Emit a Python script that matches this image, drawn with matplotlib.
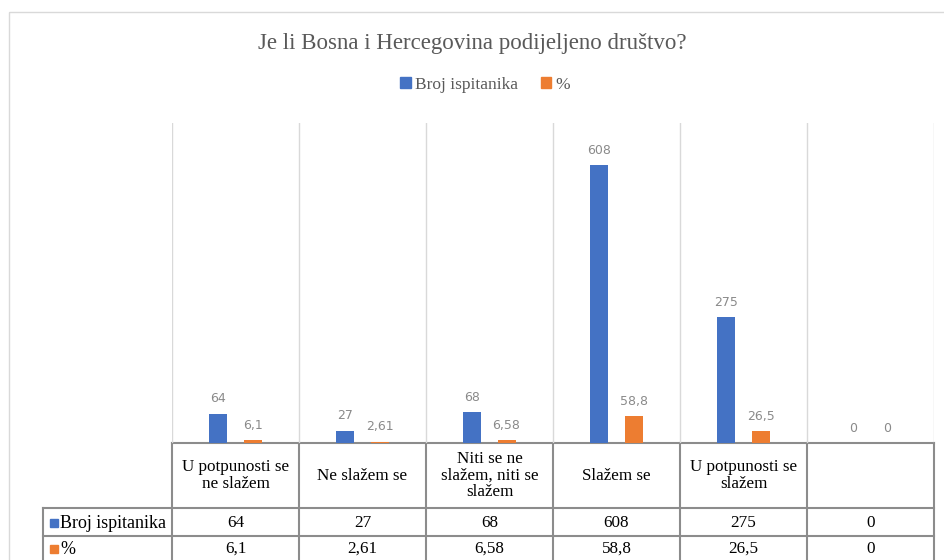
import textwrap
import numpy as np
import matplotlib
matplotlib.use('Agg')
import matplotlib.pyplot as plt
from matplotlib.patches import Rectangle, Patch

# ============== 数据 ==============
categories = ['U potpunosti se ne slažem', 'Ne slažem se',
              'Niti se ne slažem, niti se slažem', 'Slažem se',
              'U potpunosti se slažem', '']
broj = [64, 27, 68, 608, 275, 0]
posto = [6.1, 2.61, 6.58, 58.8, 26.5, 0]
series_names = ['Broj ispitanika', '%']
title = 'Je li Bosna i Hercegovina podijeljeno društvo?'

BLUE = '#4472C4'
ORANGE = '#ED7D31'
GRID = '#D9D9D9'
TLINE = '#8C8C8C'
TXT = '#595959'
SERIF = 'Liberation Serif'
TFS = 12.3  # table font size


def fmt(v):
    return str(v).replace('.', ',')


W, H = 944, 560
fig = plt.figure(figsize=(W / 100, H / 100), dpi=100)

# overlay in pixel coords for frame / table
ov = fig.add_axes([0, 0, 1, 1])
ov.set_xlim(0, W)
ov.set_ylim(H, 0)
ov.axis('off')
ov.add_patch(Rectangle((9, 12), 1000, 600, fill=False, edgecolor=GRID, lw=1))

# plot area
x0, x1, ytop, ybot = 172, 934, 123, 443
ax = fig.add_axes([x0 / W, 1 - ybot / H, (x1 - x0) / W, (ybot - ytop) / H])
n = len(categories)
x = np.arange(n)
bw, off = 0.142, 0.134
ax.bar(x - off, broj, bw, color=BLUE, zorder=3)
ax.bar(x + off, posto, bw, color=ORANGE, zorder=3)
for xi, v in zip(x, broj):
    ax.annotate(fmt(v), (xi - off, v), xytext=(0, 6), textcoords='offset points',
                ha='center', va='bottom', fontsize=9, color='#8A8A8A', family='DejaVu Sans')
for xi, v in zip(x, posto):
    ax.annotate(fmt(v), (xi + off, v), xytext=(0, 6), textcoords='offset points',
                ha='center', va='bottom', fontsize=9, color='#8A8A8A', family='DejaVu Sans')
ax.set_xlim(-0.5, n - 0.5)
ax.set_ylim(0, 700)
for b in np.arange(n + 1) - 0.5:
    ax.axvline(b, color=GRID, lw=1, zorder=1)
for s in ax.spines.values():
    s.set_visible(False)
ax.set_xticks([])
ax.set_yticks([])
ax.patch.set_alpha(0)

# title + legend
fig.text(0.5, 1 - 44 / H, title, ha='center', va='center', fontsize=16.5,
         color=TXT, family=SERIF)
handles = [Patch(color=BLUE), Patch(color=ORANGE)]
leg = fig.legend(handles, series_names, loc='center', bbox_to_anchor=(0.514, 1 - 85 / H),
                 ncol=2, frameon=False, handlelength=0.6, handleheight=0.6,
                 handletextpad=0.25, columnspacing=1.3,
                 prop={'family': SERIF, 'size': 12.5})
for t in leg.get_texts():
    t.set_color(TXT)

# data table
cw = (x1 - x0) / n
rows_y = [443, 508, 536, 564]
lx = 43
lw_t = 1.5
ov.plot([x0, x1], [rows_y[0]] * 2, color=TLINE, lw=lw_t)
for yy in rows_y[1:]:
    ov.plot([lx, x1], [yy] * 2, color=TLINE, lw=lw_t)
for i in range(n + 1):
    ov.plot([x0 + i * cw] * 2, [rows_y[0], rows_y[-1]], color=TLINE, lw=lw_t)
ov.plot([lx, lx], [rows_y[1], rows_y[-1]], color=TLINE, lw=lw_t)

for i, c in enumerate(categories):
    cx = x0 + (i + 0.5) * cw
    ov.text(cx, (rows_y[0] + rows_y[1]) / 2, textwrap.fill(c, 15), ha='center',
            va='center', fontsize=TFS, family=SERIF, color='black', linespacing=1.05)
    ov.text(cx, (rows_y[1] + rows_y[2]) / 2 + 1, fmt(broj[i]), ha='center', va='center',
            fontsize=TFS, family=SERIF, color='black')
    ov.text(cx, (rows_y[2] + rows_y[3]) / 2 - 1, fmt(posto[i]), ha='center', va='center',
            fontsize=TFS, family=SERIF, color='black')

for j, (name, col) in enumerate(zip(series_names, [BLUE, ORANGE])):
    cy = (rows_y[j + 1] + rows_y[j + 2]) / 2 + (1 if j == 0 else -1)
    ov.add_patch(Rectangle((50, cy - 4), 8, 8, color=col))
    ov.text(60, cy, name, ha='left', va='center', fontsize=13, family=SERIF, color='black')

plt.savefig('out.png', dpi=100)
plt.close()
